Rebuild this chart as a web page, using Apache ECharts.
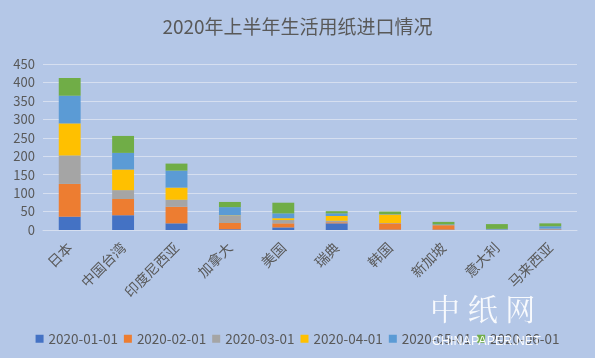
<!DOCTYPE html>
<html><head><meta charset="utf-8">
<script src="https://cdn.jsdelivr.net/npm/echarts@6/dist/echarts.min.js"></script>
<style>html,body{margin:0;padding:0;background:#b4c7e7}#c{width:595px;height:358px}</style>
</head><body><div id="c"></div>
<script>
const categories = ['日本','中国台湾','印度尼西亚','加拿大','美国','瑞典','韩国','新加坡','意大利','马来西亚'];
const seriesNames = ['2020-01-01','2020-02-01','2020-03-01','2020-04-01','2020-05-01','2020-06-01'];
const jan = [36, 40, 18, 2, 7, 18, 1, 1, 0, 1];
const feb = [89, 44, 45, 17, 11, 3, 17, 12, 1, 1];
const mar = [77, 24, 19, 20, 9, 4, 1, 1, 0, 2];
const apr = [87, 56, 33, 1, 5, 13, 23, 0, 0, 0];
const may = [75, 45, 46, 22, 13, 7, 1, 1, 2, 6];
const jun = [48, 46, 19, 14, 29, 6, 7, 7, 13, 8];
const yTicks = [0, 50, 100, 150, 200, 250, 300, 350, 400, 450];
const colors = ['#4472C4','#ED7D31','#A5A5A5','#FFC000','#5B9BD5','#70AD47'];
const values = [jan, feb, mar, apr, may, jun];
const font = "'Noto Sans CJK SC','Noto Sans',sans-serif";
const chart = echarts.init(document.getElementById('c'), null, {renderer:'canvas'});
chart.setOption({
  backgroundColor:'#b4c7e7',
  animation:false,
  color: colors,
  title:{text:'2020年上半年生活用纸进口情况', left:'center', top:12,
    textStyle:{fontFamily:font, fontSize:19, fontWeight:'normal', color:'#595959'}},
  grid:{left:43, right:18, top:64, bottom:128},
  legend:{left:'center', top:327, itemWidth:8, itemHeight:8, itemGap:6, icon:'rect',
    data: seriesNames,
    textStyle:{fontFamily:font, fontSize:13.5, color:'#595959'}},
  xAxis:{type:'category', data:categories,
    axisLine:{show:true, lineStyle:{color:'#d6dff0', width:1}}, axisTick:{show:false},
    axisLabel:{rotate:45, interval:0, fontFamily:font, fontSize:14, color:'#595959', margin:15}},
  yAxis:{type:'value', min:yTicks[0], max:yTicks[yTicks.length-1], interval:50,
    axisLine:{show:false}, axisTick:{show:false},
    splitLine:{lineStyle:{color:'#d6dff0', width:1}},
    axisLabel:{fontFamily:font, fontSize:13, color:'#595959', margin:8}},
  series: seriesNames.map((n,i)=>({name:n, type:'bar', stack:'t', data:values[i], barWidth:'41%'})),
  graphic:[
    {type:'text', left:430, top:294, z:100, style:{text:'中 纸 网', fontFamily:"'Noto Serif CJK SC','Noto Sans CJK SC',serif", fontSize:30, fill:'rgba(255,255,255,0.9)'}},
    {type:'text', left:432, top:335, z:100, style:{text:'CHINAPAPER.NET', fontFamily:"'Liberation Sans',sans-serif", fontSize:12.5, fill:'rgba(255,255,255,0.95)'}}
  ]
});
</script></body></html>
